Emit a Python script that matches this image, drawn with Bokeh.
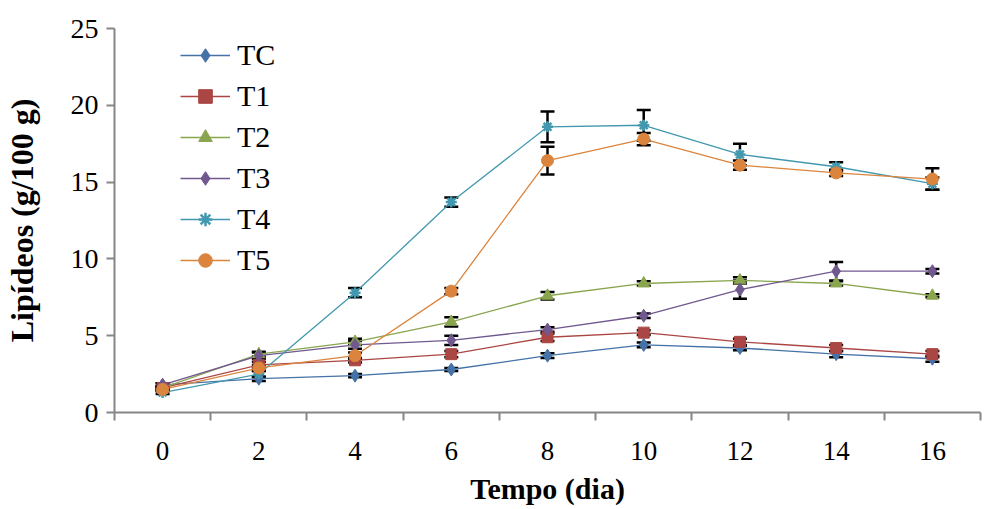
from bokeh.plotting import figure
from bokeh.models import (Range1d, FixedTicker, Whisker, TeeHead, ColumnDataSource,
                          Legend, LegendItem)
from bokeh.embed import file_html
from bokeh.resources import INLINE

days = [0, 2, 4, 6, 8, 10, 12, 14, 16]
day_labels = ["0", "2", "4", "6", "8", "10", "12", "14", "16"]
series_names = ["TC", "T1", "T2", "T3", "T4", "T5"]

tc = [1.8, 2.2, 2.4, 2.8, 3.7, 4.4, 4.2, 3.8, 3.5]
t1 = [1.6, 3.1, 3.4, 3.8, 4.9, 5.2, 4.6, 4.2, 3.8]
t2 = [1.6, 3.8, 4.6, 5.9, 7.6, 8.4, 8.6, 8.4, 7.6]
t3 = [1.8, 3.7, 4.4, 4.7, 5.4, 6.3, 8.0, 9.2, 9.2]
t4 = [1.3, 2.5, 7.8, 13.7, 18.6, 18.7, 16.8, 16.0, 14.9]
t5 = [1.5, 2.9, 3.7, 7.9, 16.4, 17.8, 16.1, 15.6, 15.2]

tc_err = [0.1, 0.15, 0.1, 0.1, 0.15, 0.15, 0.15, 0.2, 0.2]
t1_err = [0.1, 0.2, 0.15, 0.2, 0.25, 0.15, 0.2, 0.2, 0.2]
t2_err = [0.1, 0.15, 0.2, 0.3, 0.25, 0.15, 0.2, 0.15, 0.1]
t3_err = [0.1, 0.2, 0.25, 0.3, 0.15, 0.15, 0.6, 0.6, 0.15]
t4_err = [0.1, 0.2, 0.3, 0.3, 1.0, 1.0, 0.7, 0.3, 0.4]
t5_err = [0.1, 0.2, 0.2, 0.2, 0.9, 0.4, 0.3, 0.2, 0.7]

values = [tc, t1, t2, t3, t4, t5]
errors = [tc_err, t1_err, t2_err, t3_err, t4_err, t5_err]
colors = ["#4572A7", "#AA4643", "#89A54E", "#71588F", "#4198AF", "#DB843D"]
markers = ["diamond", "square", "triangle", "diamond", "asterisk", "circle"]
msizes = [13, 11, 12, 13, 11, 12]

FONT = "Liberation Serif"
AXIS_COLOR = "#868686"

p = figure(width=990, height=507, output_backend="svg", toolbar_location=None,
           x_range=Range1d(-1, 17), y_range=Range1d(0, 25),
           min_border_left=114, min_border_right=10, min_border_top=28,
           min_border_bottom=95)
p.outline_line_color = None
p.grid.visible = False
p.background_fill_color = "white"

# x axis
p.xaxis.ticker = FixedTicker(ticks=days, minor_ticks=[-1, 1, 3, 5, 7, 9, 11, 13, 15, 17])
p.xaxis.major_label_overrides = {d: l for d, l in zip(days, day_labels)}
p.xaxis.major_tick_out = 0
p.xaxis.major_tick_in = 0
p.xaxis.minor_tick_out = 8
p.xaxis.minor_tick_in = 0
p.xaxis.minor_tick_line_color = AXIS_COLOR
p.xaxis.minor_tick_line_width = 2
p.xaxis.axis_line_color = AXIS_COLOR
p.xaxis.axis_line_width = 2
p.xaxis.major_label_standoff = 21
p.xaxis.major_label_text_font = FONT
p.xaxis.major_label_text_font_size = "27px"
p.xaxis.major_label_text_color = "black"
p.xaxis.axis_label = "Tempo (dia)"
p.xaxis.axis_label_text_font = FONT
p.xaxis.axis_label_text_font_size = "30px"
p.xaxis.axis_label_text_font_style = "bold"
p.xaxis.axis_label_text_color = "black"
p.xaxis.axis_label_standoff = 9

# y axis
p.yaxis.ticker = FixedTicker(ticks=[0, 5, 10, 15, 20, 25], minor_ticks=[])
p.yaxis.major_tick_out = 8
p.yaxis.major_tick_in = 0
p.yaxis.major_tick_line_color = AXIS_COLOR
p.yaxis.major_tick_line_width = 2
p.yaxis.axis_line_color = AXIS_COLOR
p.yaxis.axis_line_width = 2
p.yaxis.major_label_standoff = 8
p.yaxis.major_label_text_font = FONT
p.yaxis.major_label_text_font_size = "28px"
p.yaxis.major_label_text_color = "black"
p.yaxis.axis_label = "Lipídeos (g/100 g)"
p.yaxis.axis_label_text_font = FONT
p.yaxis.axis_label_text_font_size = "32px"
p.yaxis.axis_label_text_font_style = "bold"
p.yaxis.axis_label_text_color = "black"
p.yaxis.axis_label_standoff = 28

items = []
line_renderers = []
for name, vals, errs, col, mk, ms in zip(series_names, values, errors, colors, markers, msizes):
    src = ColumnDataSource(dict(x=days, y=vals,
                                upper=[v + e for v, e in zip(vals, errs)],
                                lower=[v - e for v, e in zip(vals, errs)]))
    ln = p.line("x", "y", source=src, line_color=col, line_width=1.3)
    line_renderers.append((name, ln, src, col, mk, ms))

for name, ln, src, col, mk, ms in line_renderers:
    w = Whisker(base="x", upper="upper", lower="lower", source=src,
                line_color="black", line_width=2.5,
                upper_head=TeeHead(size=14, line_color="black", line_width=2.5),
                lower_head=TeeHead(size=14, line_color="black", line_width=2.5))
    p.add_layout(w)

for name, ln, src, col, mk, ms in line_renderers:
    if mk == "asterisk":
        sc = p.scatter("x", "y", source=src, marker=mk, size=ms, line_color=col,
                       line_width=2.5, fill_color=col)
    else:
        sc = p.scatter("x", "y", source=src, marker=mk, size=ms, line_color=col,
                       fill_color=col)
    items.append(LegendItem(label=name, renderers=[ln, sc]))

legend = Legend(items=items, location=(66, 135), orientation="vertical",
                background_fill_alpha=0, border_line_color=None,
                label_text_font=FONT, label_text_font_size="30px",
                label_text_color="black", glyph_width=50, glyph_height=34,
                label_height=34, label_standoff=7, spacing=7, padding=0, margin=0)
p.add_layout(legend)

open("out.html", "w").write(file_html(p, INLINE))
